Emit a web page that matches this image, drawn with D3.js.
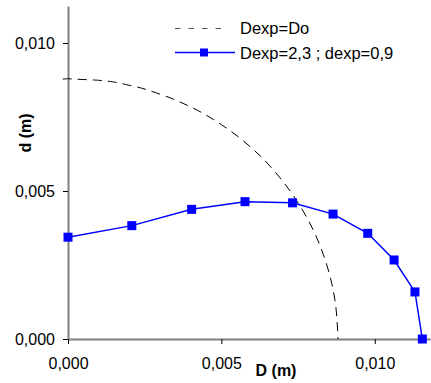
<!DOCTYPE html>
<html>
<head>
<meta charset="utf-8">
<script src="https://cdn.jsdelivr.net/npm/d3@7"></script>
<style>
  body { margin: 0; background: #fff; }
  svg { display: block; font-family: "Liberation Sans", Arial, sans-serif; }
</style>
</head>
<body>
<svg id="chart" width="431" height="383"></svg>
<script>
// D (m) / d (m)
const circleD = [-0.00017, 0, 0.001, 0.002, 0.003, 0.004, 0.005, 0.006, 0.007, 0.0075, 0.008, 0.0084, 0.0086, 0.0087, 0.0088]
const circleDd = [0.00878, 0.0088, 0.00874, 0.00857, 0.00827, 0.00784, 0.00724, 0.00644, 0.00533, 0.0046, 0.00367, 0.00262, 0.00187, 0.00132, 0]

const expD = [0, 0.00208, 0.00403, 0.00577, 0.00732, 0.00864, 0.00977, 0.01063, 0.01131, 0.01155]
const expDd = [0.00344, 0.00383, 0.00438, 0.00464, 0.0046, 0.00422, 0.00357, 0.00267, 0.00159, 0]

const xTicks = [0, 0.005, 0.01]
const yTicks = [0, 0.005, 0.01]
const legendLabels = ['Dexp=Do', 'Dexp=2,3 ; dexp=0,9']

const fmt = (v) => d3.format('.3f')(v).replace('.', ',')

const svg = d3.select('#chart')

const x = d3.scaleLinear().domain([0, 0.0118]).range([68, 430])
const y = d3.scaleLinear().domain([0, 0.01125]).range([339, 6])

const axisColor = '#808080'

// axes
const gx = svg.append('g')
	.attr('transform', 'translate(0,' + y(0) + ')')
	.call(d3.axisBottom(x).tickValues(xTicks).tickFormat(fmt)
		.tickSize(5).tickSizeOuter(0).tickPadding(14))
const gy = svg.append('g')
	.attr('transform', 'translate(' + x(0) + ',0)')
	.call(d3.axisLeft(y).tickValues(yTicks).tickFormat(fmt)
		.tickSize(5).tickSizeOuter(0).tickPadding(8))

svg.selectAll('.domain').attr('stroke', axisColor).attr('stroke-width', 2)
svg.selectAll('.tick line').attr('stroke', '#000').attr('stroke-width', 1)
svg.selectAll('.tick text')
	.attr('font-size', 16)
	.attr('fill', '#000')
	.attr('font-family', '"Liberation Sans", Arial, sans-serif')
gy.selectAll('.tick text').attr('dy', '0.35em')

// axis titles
svg.append('text')
	.attr('x', 276).attr('y', 376)
	.attr('text-anchor', 'middle')
	.attr('font-size', 16).attr('font-weight', 'bold')
	.text('D (m)')
svg.append('text')
	.attr('transform', 'translate(31,133) rotate(-90)')
	.attr('text-anchor', 'middle')
	.attr('font-size', 16).attr('font-weight', 'bold')
	.text('d (m)')

// dashed curve
const line = d3.line().x((d) => x(d[0])).y((d) => y(d[1]))
svg.append('path')
	.datum(d3.zip(circleD, circleDd))
	.attr('d', d3.line().curve(d3.curveMonotoneY).x((d) => x(d[0])).y((d) => y(d[1])))
	.attr('fill', 'none')
	.attr('stroke', '#000')
	.attr('stroke-width', 1)
	.attr('stroke-dasharray', '9,6')

// blue series
const expPts = d3.zip(expD, expDd)
svg.append('path')
	.datum(expPts)
	.attr('d', line)
	.attr('fill', 'none')
	.attr('stroke', '#0000ff')
	.attr('stroke-width', 1.5)
svg.selectAll('rect.pt')
	.data(expPts)
	.enter().append('rect')
		.attr('class', 'pt')
		.attr('x', (d) => x(d[0]) - 4.5)
		.attr('y', (d) => y(d[1]) - 4.5)
		.attr('width', 9).attr('height', 9)
		.attr('fill', '#0000ff')

// legend
const lg = svg.append('g')
lg.append('line')
	.attr('x1', 175).attr('x2', 229).attr('y1', 28.5).attr('y2', 28.5)
	.attr('stroke', '#555').attr('stroke-width', 1.2)
	.attr('stroke-dasharray', '5.5,8')
lg.append('line')
	.attr('x1', 175).attr('x2', 235).attr('y1', 52.5).attr('y2', 52.5)
	.attr('stroke', '#0000ff').attr('stroke-width', 1.5)
lg.append('rect')
	.attr('x', 200).attr('y', 48.5).attr('width', 8).attr('height', 8)
	.attr('fill', '#0000ff')
lg.selectAll('text')
	.data(legendLabels)
	.enter().append('text')
		.attr('x', 240)
		.attr('y', (d, i) => 34 + i * 24.5)
		.attr('font-size', 16.5)
		.text((d) => d)
</script>
</body>
</html>
